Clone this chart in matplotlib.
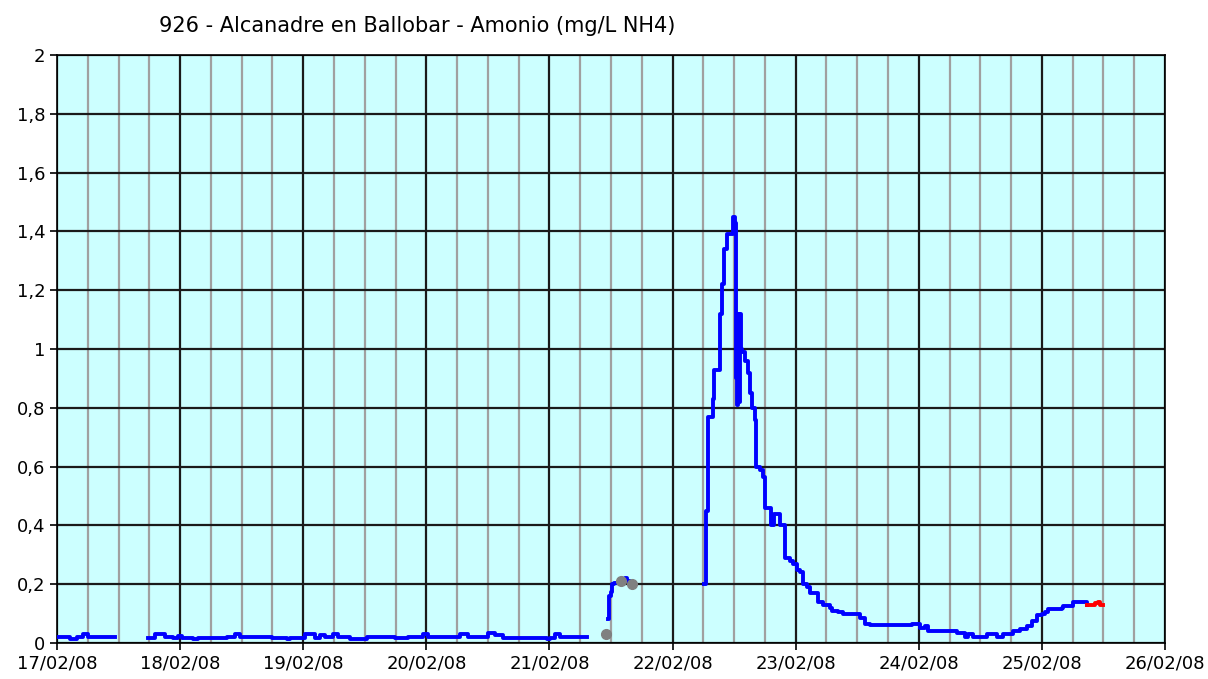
import numpy as np
import matplotlib.pyplot as plt

# horas desde 17/02/08 00:00 y valores de amonio (mg/L NH4)
seg1_h = [0, 2.5, 3.9, 5.1, 6.0, 7.4, 11.3]
seg1_v = [0.02, 0.015, 0.02, 0.03, 0.02, 0.02, 0.02]

seg2_h = [17.7, 19.1, 21.1, 22.6, 23.6, 24.4, 26.5, 27.5, 33.2, 34.7, 35.7, 41.9,
          42.9, 44.9, 45.4, 48.4, 50.3, 51.3, 52.3, 53.8, 54.8, 57.1, 60.4, 61.6,
          63.6, 65.9, 68.4, 71.4, 72.3, 75.1, 78.6, 80.1, 84.0, 85.4, 87.0, 87.9,
          95.5, 96.1, 97.1, 98.1, 103.4]
seg2_v = [0.018, 0.03, 0.022, 0.017, 0.025, 0.017, 0.015, 0.017, 0.022, 0.03, 0.02, 0.016,
          0.018, 0.015, 0.018, 0.03, 0.017, 0.028, 0.02, 0.03, 0.02, 0.015, 0.02, 0.022,
          0.02, 0.016, 0.02, 0.03, 0.022, 0.02, 0.03, 0.022, 0.035, 0.028, 0.017, 0.018,
          0.015, 0.018, 0.03, 0.02, 0.02]

seg3_h = [107.4, 107.6, 108.0, 108.2, 108.6, 109.8, 110.8, 111.1, 111.7]
seg3_v = [0.08, 0.16, 0.175, 0.2, 0.205, 0.21, 0.22, 0.21, 0.205]

seg4_h = [126.1, 126.5, 126.9, 127.5, 127.9, 128.1, 129.1, 129.3, 129.7, 130.0, 130.6,
          131.6, 131.8, 132.2, 132.4, 132.6, 132.8, 133.0, 133.2, 133.4, 133.6, 134.1,
          134.7, 135.1, 135.5, 136.1, 136.3, 137.1, 137.6, 138.0, 139.2, 139.8, 140.6,
          141.0, 141.9, 142.9, 143.5, 144.3, 144.9, 145.4, 146.2, 146.8, 148.4, 149.3,
          150.7, 151.1, 152.3, 153.2, 156.6, 157.5, 158.5, 166.7, 168.3, 169.2, 169.8,
          175.5, 177.0, 177.6, 178.6, 181.3, 183.3, 184.4, 186.4, 187.8, 189.1, 190.1,
          191.1, 192.0, 192.6, 193.2, 195.9, 196.1, 198.1, 200.8]
seg4_v = [0.2, 0.45, 0.77, 0.77, 0.83, 0.93, 0.93, 1.12, 1.22, 1.34, 1.39,
          1.39, 1.45, 1.43, 0.9, 0.81, 1.12, 0.82, 1.12, 1.0, 0.99, 0.96,
          0.92, 0.85, 0.8, 0.76, 0.6, 0.59, 0.565, 0.46, 0.4, 0.44, 0.44,
          0.4, 0.29, 0.28, 0.27, 0.25, 0.24, 0.2, 0.19, 0.17, 0.14, 0.13,
          0.12, 0.11, 0.105, 0.099, 0.085, 0.065, 0.061, 0.065, 0.05, 0.058, 0.041,
          0.034, 0.02, 0.03, 0.02, 0.03, 0.02, 0.03, 0.04, 0.048, 0.058, 0.075,
          0.095, 0.1, 0.105, 0.115, 0.12, 0.125, 0.14, 0.13]

red_h = [200.8, 201.8, 202.4, 203.0, 203.4, 203.9]
red_v = [0.13, 0.13, 0.135, 0.14, 0.13, 0.13]

gray_h = [107.1, 110.0, 112.1]
gray_v = [0.03, 0.21, 0.2]

dias = ['17/02/08', '18/02/08', '19/02/08', '20/02/08', '21/02/08',
        '22/02/08', '23/02/08', '24/02/08', '25/02/08', '26/02/08']

fig = plt.figure(figsize=(12.08, 6.79), dpi=100)
ax = fig.add_axes([0.0472, 0.053, 0.9172, 0.866])
ax.set_facecolor('#ccffff')

for h, v in [(seg1_h, seg1_v), (seg2_h, seg2_v), (seg3_h, seg3_v), (seg4_h, seg4_v)]:
    ax.plot(h, v, color='#0000ff', lw=2.8, drawstyle='steps-post', zorder=3)
ax.plot(red_h, red_v, color='#ff0000', lw=2.8, drawstyle='steps-post', zorder=3)
ax.plot(gray_h, gray_v, 'o', color='#808080', ms=7, zorder=4)

ax.set_xlim(0, 216)
ax.set_ylim(0, 2)
ax.set_xticks(np.arange(0, 217, 24))
ax.set_xticklabels(dias)
ax.set_xticks(np.arange(0, 217, 6), minor=True)
ax.set_yticks(np.arange(0, 2.01, 0.2))
ax.set_yticklabels(['0', '0,2', '0,4', '0,6', '0,8', '1', '1,2', '1,4', '1,6', '1,8', '2'])

ax.grid(which='minor', axis='x', color='#a0a0a0', lw=1.6)
ax.grid(which='major', color='#1a1a1a', lw=1.6)
ax.set_axisbelow(True)
ax.tick_params(which='minor', length=0)
ax.tick_params(which='major', length=5, width=1.2, labelsize=13, colors='black')
for s in ax.spines.values():
    s.set_color('black')
    s.set_linewidth(1.2)

fig.text(0.345, 0.962, '926 - Alcanadre en Ballobar - Amonio (mg/L NH4)',
         ha='center', va='center', fontsize=15)

plt.savefig('out.png', dpi=100)
